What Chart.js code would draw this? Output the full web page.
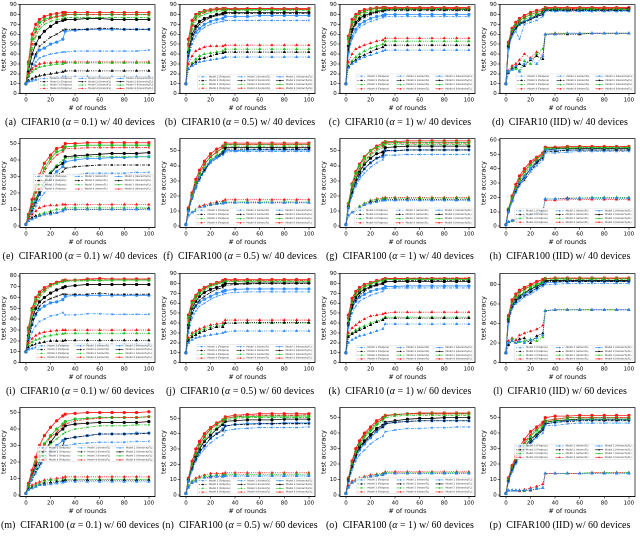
<!DOCTYPE html>
<html>
<head>
<meta charset="utf-8">
<script src="https://cdn.jsdelivr.net/npm/chart.js@4.4.1/dist/chart.umd.min.js"></script>
<style>
  body { margin: 0; background: #fff; }
  #grid { display: grid; grid-template-columns: repeat(4, 160px); grid-auto-rows: 134.25px; width: 640px; }
  .cell canvas { display: block; }
  .cap { font-family: "Liberation Serif", "DejaVu Serif", serif; font-size: 10px; text-align: center; white-space: nowrap; margin-top: 4px; color: #000; }
</style>
</head>
<body>
<div id="grid"></div>
<script>
const rounds = [0, 2, 5, 8, 11, 15, 20, 25, 30, 32, 40, 50, 60, 70, 80, 90, 100]
const xTicks = [0, 20, 40, 60, 80, 100]

const models = ['Model 1', 'Model 2', 'Model 3', 'Model 4']
const methods = ['Fedprox', 'HeteroFL', 'HierarchyFL']
const modelColors = ['#2b8cff', '#000000', '#1fc01f', '#ff1414']
const methodDash = [[1, 1.2], [3, 1.2, 1, 1.2], []]
const methodMarker = ['triangle', 'crossRot', 'circle']

// each panel: 12 rows = Model 1..4 Fedprox, Model 1..4 HeteroFL, Model 1..4 HierarchyFL
const accA = [
  [10,12,13,14,15,15,16,16,17,17,17,17,17,17,17,17,17],
  [10,13,15,17,18,19,20,21,22,23,23,23,23,23,23,23,23],
  [10,18,22,25,27,28,29,30,30,31,31,31,31,31,31,31,31],
  [10,20,25,28,30,31,31,32,32,32,32,32,32,32,32,32,32],
  [10,14,25,32,36,38,40,41,42,42,43,43,43,43,43,43,44],
  [10,17,30,40,48,52,57,60,64,65,65,65,66,66,65,65,65],
  [10,25,45,58,65,70,73,75,76,77,77,77,77,77,77,77,77],
  [10,27,50,62,68,73,76,78,79,80,80,80,80,80,80,80,80],
  [10,18,30,38,44,46,50,52,55,63,64,65,65,65,65,65,65],
  [10,22,40,50,57,63,68,72,74,75,75,76,76,75,75,75,75],
  [10,30,55,65,72,75,77,78,79,80,80,80,80,80,80,80,80],
  [10,32,60,70,75,78,80,81,82,82,82,82,82,82,82,82,82],
]
const accB = [
  [10,25,28,30,32,33,34,35,36,37,37,37,37,37,37,37,37],
  [10,25,29,32,35,36,38,40,41,42,42,42,42,42,42,42,42],
  [10,25,31,35,38,40,41,42,43,45,45,45,45,45,45,45,45],
  [10,30,38,43,45,47,48,48,48,49,49,49,49,49,49,49,49],
  [10,35,50,58,63,67,70,72,73,74,74,74,74,74,74,74,74],
  [10,38,55,65,70,74,77,79,80,81,81,81,81,81,81,81,81],
  [10,45,65,74,78,80,82,83,84,84,84,84,84,84,84,84,84],
  [10,48,68,76,80,82,84,85,85,85,85,86,86,86,85,85,85],
  [10,40,55,62,66,70,73,75,76,78,78,78,79,79,79,79,79],
  [10,42,60,68,73,76,78,80,81,82,82,82,82,82,82,82,82],
  [10,50,70,78,81,83,84,85,85,85,85,85,85,85,85,85,85],
  [10,55,74,80,82,84,85,86,86,86,86,86,86,86,86,86,86],
]
const accC = [
  [10,26,30,32,35,37,39,41,43,44,44,44,44,44,44,44,44],
  [10,27,31,34,37,39,42,45,47,49,49,49,49,49,49,49,49],
  [10,28,33,37,40,43,46,48,50,53,53,53,53,53,53,53,53],
  [10,32,40,45,47,49,51,53,54,56,56,56,56,56,56,56,56],
  [10,40,55,62,67,70,73,75,77,78,78,78,78,78,78,78,78],
  [10,45,62,70,74,77,80,82,83,84,84,84,84,84,84,84,84],
  [10,50,68,75,78,81,83,84,85,85,85,85,85,85,85,85,85],
  [10,52,70,77,81,83,85,86,86,86,86,86,86,86,86,86,86],
  [10,42,58,65,70,73,76,78,79,80,80,80,80,80,80,80,80],
  [10,48,65,72,76,79,81,83,84,85,85,85,85,85,85,85,85],
  [10,55,72,78,81,83,85,86,86,86,86,86,86,86,86,86,86],
  [10,58,75,80,83,85,86,87,87,87,87,87,87,87,87,87,87],
]
const accD = [
  [10,22,24,28,22,30,35,30,38,60,60,61,61,61,61,61,61],
  [10,21,25,27,30,28,34,38,35,60,60,60,60,61,61,61,61],
  [10,22,26,25,23,33,30,40,45,60,61,61,61,61,61,61,61],
  [10,23,28,30,34,40,36,42,38,60,61,61,61,61,61,61,61],
  [10,45,58,63,55,70,72,74,78,83,83,83,83,83,83,83,83],
  [10,47,60,66,70,72,75,78,80,84,84,84,84,84,84,84,84],
  [10,48,62,68,72,75,78,80,82,85,85,85,85,85,85,85,85],
  [10,50,63,70,74,77,80,82,84,86,86,86,86,86,86,86,86],
  [10,46,60,66,70,73,76,78,80,84,84,84,84,84,84,84,84],
  [10,48,62,67,71,73,76,79,82,85,85,85,85,85,85,85,86],
  [10,50,64,70,74,77,80,82,84,86,86,86,86,86,86,86,86],
  [10,52,66,72,76,79,82,84,85,87,87,87,87,87,87,87,87],
]
const accE = [
  [1,3,4,5,6,7,7,8,9,10,10,10,10,10,10,10,10],
  [1,3,5,6,6,7,8,8,9,10,10,10,10,10,10,10,10.5],
  [1,3,5,6,7,8,9,10,10,11,11,11,11,11,11,11,11],
  [1,4,7,9,11,12,12.5,12.5,13,13,13,13,13,13,13,13,13],
  [1,4,8,12,16,20,24,27,29,30,31,32,32,32,32,32.5,32.5],
  [1,4,9,14,19,24,28,31,33,35,36,36.5,37,37,37,37,37],
  [1,5,11,17,22,28,33,37,40,41,41.5,42,42,42,42,42,42],
  [1,6,13,20,26,33,39,43,45,47,47,47.5,47.5,47.5,47.5,47.5,47.5],
  [1,5,10,15,19,24,29,33,36,39,40,41,41,41.5,41.5,42,42],
  [1,5,11,16,21,27,32,36,38,42,42.5,43,43.5,44,44,44,44.5],
  [1,6,14,21,28,35,41,45,46,48,48.5,49,49,49,49,49,49],
  [1,7,16,24,31,38,43,47,48,50,50,50.5,50.5,50.5,50.5,50.5,50.5],
]
const accF = [
  [1,7,9,10,12,13,14,14.5,15,15.5,15.5,15.5,15.5,15.5,15.5,15.5,15.5],
  [1,7,9,10,12,13,14,15,15,15.5,15.5,15.5,15.5,15.5,15.5,15.5,15.5],
  [1,7,9,11,12,13,14,15,15.5,16,16,16,16,16,16,16,16],
  [1,7,9,11,13,14,15,16,16.5,17.5,17.5,17.5,17.5,17.5,17.5,17.5,17.5],
  [1,10,18,25,30,36,42,45,47,49,49.5,49.5,49.5,49.5,49.5,49.5,49.5],
  [1,10,18,25,31,37,42,45,48,51,51,51,51,51,51,51,51],
  [1,11,20,28,33,39,44,47,50,53,53,53,53,53,53,53,53],
  [1,12,21,29,35,41,46,49,52,54,54,54,54,54,54,54,54],
  [1,10,19,26,32,38,43,46,48,50,50,50.5,50.5,50.5,50.5,50.5,50.5],
  [1,11,20,27,32,37,43,46,49,52,52,52,52,52,52,52,52],
  [1,11,21,29,35,41,46,49,52,54,54,54,54,54,54,54,54],
  [1,12,22,31,37,43,48,51,53,55,55,55,55,55,55,55,55],
]
const accG = [
  [1,7,9,10,12,14,15,16,17,17,17,17,17,17,17,17,17],
  [1,7,9,10,12,14,16,16.5,17,17.5,17.5,17.5,17.5,17.5,17.5,17.5,17.5],
  [1,7,9,11,13,15,17,17.5,18,18.5,18.5,18.5,18.5,18.5,18.5,18.5,18.5],
  [1,7,9,11,13,15,17,18,18.5,19,19,19,19,19,19,19,19],
  [1,12,20,26,31,35,39,42,44,47,47,47.5,47.5,47.5,47.5,47.5,47.5],
  [1,12,22,29,34,38,42,45,47,50,50,50.5,50.5,50.5,50.5,50.5,50.5],
  [1,13,24,32,37,42,47,50,52,54,54,54,54,54,54,54,54],
  [1,14,25,33,38,43,48,51,53,55,55,55,55,55,55,55,55],
  [1,12,22,28,33,38,42,45,46,50,50,50.5,50.5,50.5,50.5,50.5,50.5],
  [1,13,24,31,36,41,45,48,49,52,52.5,53,53,53,53,53,53],
  [1,15,27,35,40,45,50,52,54,55.5,55.5,55.5,55.5,55.5,55.5,55.5,55.5],
  [1,15,28,36,41,46,50,53,55,56,56,56.5,56.5,56.5,56.5,56.5,56.5],
]
const accH = [
  [1,3,4,4,5,7,8,9,10,19,19,19,19.5,19.5,19.5,19.5,19.5],
  [1,3,4,4,5,7,8,9,10,19,19,19.5,19.5,19.5,19.5,19.5,19.5],
  [1,3,3.5,4,5,6,8,9,10,19,19,19.5,19.5,20,20,20,20],
  [1,3,4,5,5,7,8,9,10,18,18,18.5,18.5,18.5,18.5,18.5,18.5],
  [1,10,17,23,28,33,38,42,46,51,51,51.5,52,52,52,52,52],
  [1,10,17,24,29,32,38,44,47,52,52,53,53,53,53,53,53],
  [1,11,19,26,31,36,42,46,49,54,54,54,54.5,54.5,54.5,54.5,54.5],
  [1,11,20,27,33,38,44,47,50,55,55,55,55.5,55.5,55.5,55.5,55.5],
  [1,10,18,25,30,35,40,44,48,53,53,53,53,53,53,53,53],
  [1,11,18,25,30,34,40,45,48,53,54,54,54,54,54,54,54],
  [1,12,20,27,33,38,43,47,50,54.5,54.5,55,55,55,55,55,55],
  [1,12,21,29,35,40,45,48,51,55,55,55.5,55.5,55.5,55.5,55.5,55.5],
]
const accI = [
  [10,12,13,14,14,15,15,15.5,16,16,16,16.5,16.5,16.5,16.5,16.5,16.5],
  [10,14,16,17,18,19,20,20,20,20.5,20.5,20.5,20.5,20.5,20.5,20.5,20.5],
  [10,16,19,21,22,24,25,26,26.5,27,27,27,27,27,27,27,27],
  [10,18,22,25,27,28,29,29.5,30,30,30,30,30,30,30,30,30],
  [10,18,28,34,38,40,43,44,46,44,44,45,45,44.5,44.5,44.5,44.5],
  [10,20,35,45,52,56,59,61,63,63,63,63,64,63,63,63,63],
  [10,25,42,54,60,65,70,73,74,75,75,75.5,75.5,76,76,76,76],
  [10,28,45,56,62,67,71,74,75,76,76,76.5,77,77,77,77,77],
  [10,22,35,44,49,52,55,56,58,61,62,62,62,62,62,62,62],
  [10,25,40,50,56,60,64,67,69,70,71,72,72,72,72,72,72],
  [10,30,48,58,63,67,71,73,75,75.5,76,76,76,76,76,76,76],
  [10,32,50,60,65,69,72,74,75.5,76,76,77,77.5,77,77,77,77],
]
const accJ = [
  [10,20,23,25,26,27,28,29,30,31,32,32,32,32,32,32,32],
  [10,22,26,28,30,32,34,36,36,40,40,40.5,40.5,40.5,40.5,40.5,40.5],
  [10,23,28,30,32,34,36,37,38,40,40,40,40,40,40,40,40],
  [10,25,30,32,34,36,38,39,40,43,43,43,43,43,43,43,43],
  [10,30,45,52,57,60,64,67,69,70,71,71.5,71.5,71.5,71.5,71.5,71.5],
  [10,35,50,58,63,67,71,74,76,78,79,79.5,80,80,80,80,80],
  [10,40,56,64,69,73,77,79,81,82,82,82,82,82,82,82,82],
  [10,42,58,66,71,75,78,80,82,83,83,83,83,83,83,83,83],
  [10,35,50,57,61,64,67,70,72,73,74,74.5,74.5,74.5,74.5,74.5,74.5],
  [10,38,55,62,67,71,74,76,78,80,80,80.5,80.5,80.5,80.5,80.5,80.5],
  [10,45,60,67,71,75,78,80,81.5,82.5,82.5,82.5,82.5,82.5,82.5,82.5,82.5],
  [10,48,62,68,73,76,79,81,83,84,84,84,84,84,84,84,84],
]
const accK = [
  [10,20,23,25,27,28,30,32,34,39,39,39,39,39,39,39,39],
  [10,26,29,31,33,35,38,41,43,45,45,45,45,45,45,45,45],
  [10,27,30,33,35,37,40,42,44,46,46,46,46,46,46,46,46],
  [10,30,35,38,41,44,47,48,49,50,51,51,51,51,51,51,51],
  [10,35,50,57,62,65,68,70,72,75,75.5,75.5,75.5,75.5,75.5,75.5,75.5],
  [10,38,55,63,68,72,76,78,80,82,82.5,83,83,83,83,83,83],
  [10,42,60,68,72,76,79,81,83,84,84,84.5,84.5,84.5,84.5,84.5,84.5],
  [10,45,62,70,74,77,80,82,84,85,85,85.5,85.5,85.5,85.5,85.5,85.5],
  [10,38,55,62,66,69,72,74,75,77,77,77.5,77.5,77.5,77.5,77.5,77.5],
  [10,40,58,66,71,74,77,79,80,82,82,82,82,82,82,82,82],
  [10,45,62,70,74,77,80,82,83,84,84,84,84,84,84,84,84],
  [10,48,65,72,76,79,81,83,84,85,85,85,85,85,85,85,85],
]
const accL = [
  [10,20,22,20,22,20,23,25,28,53,54,54,54,54,54,54,54],
  [10,18,22,20,24,25,20,27,30,53,54,54,54,54,54,54,54],
  [10,19,24,20,21,22,24,22,26,53,54,54,54,54,54,54,54],
  [10,22,25,23,28,30,32,34,38,53,54,54,54,54,54,54,54],
  [10,40,55,60,63,67,70,74,78,80,80,81,81,81,81,81,81],
  [10,42,56,62,66,68,72,76,79,83,83,83,83,83,83,83,83],
  [10,45,60,66,69,72,76,79,82,85,85,85,85,85,85,85,85],
  [10,47,62,68,72,75,79,82,84,86,86,86,86,86,86,86,86],
  [10,42,57,62,66,70,73,76,80,82,82,83,83,83,83,83,83],
  [10,44,58,64,68,71,75,78,81,84,84,84,84,84,84,84,84],
  [10,46,62,68,72,75,78,80,83,86,86,86,86,86,86,86,86],
  [10,48,64,70,74,77,80,83,85,86,86.5,86.5,86.5,86.5,86.5,86.5,86.5],
]
const accM = [
  [1,3,4,5,6,6,6.5,7,7.5,8,8,8,8,8,8,8,8],
  [1,3.5,4.5,5,6,7,7.5,8,8.5,9,9,9,9,9,9,9,9],
  [1,4,5,6,7,8,9,9,9,9.5,9.5,9.5,9.5,9.5,9.5,9.5,9.5],
  [1,4,6,7,8,9,9.5,10,10.5,11,11,11,11,11,11,11,11],
  [1,4,9,13,17,21,25,27,29,30,31,31.5,32,32,32,32.5,32.5],
  [1,4,9,14,18,22,26,29,30,34,35,36,37,37,37,37,37.5],
  [1,5,11,16,21,26,31,34,37,38,40,41,42,42,42,42.5,42.5],
  [1,6,13,19,25,30,35,38,42,43,45,46,46.5,47,47,47,47.5],
  [1,5,11,16,20,24,27,30,33,34,35,36,37,37,37,37.5,37.5],
  [1,5,12,18,23,27,32,37,40,42,43,43.5,44,44,44,44,44.5],
  [1,6,13,20,26,31,36,40,43,44.5,46,46.5,47,47,47,47,47.5],
  [1,7,15,23,30,36,41,45,48,49,49.5,50,50,50,50,50,50.5],
]
const accN = [
  [1,5,8,9,10,11,11.5,12,12,12.5,12.5,12.5,12.5,12.5,12.5,12.5,12.5],
  [1,5,8,9,10,11,12,12,12,12.5,12.5,12.5,12.5,12.5,12.5,12.5,12.5],
  [1,6,9,10,11,12,12.5,13,13,13.5,13.5,13.5,13.5,13.5,13.5,13.5,13.5],
  [1,6,9,11,12,13,14,14,14,14.5,14.5,14.5,14.5,14.5,14.5,14.5,14.5],
  [1,9,16,22,26,30,34,37,39,42,43,43.5,44,44,44,44,44.5],
  [1,9,17,23,28,32,37,40,42,45,46,46,46.5,46.5,46.5,46.5,46.5],
  [1,10,19,26,31,36,41,44,47,49,50,50.5,50.5,50.5,50.5,50.5,50.5],
  [1,11,20,28,33,38,43,46,48,50,51,52,52,52,52,52,52.5],
  [1,9,17,23,28,32,37,40,43,45,46,46.5,46.5,46.5,47,47,47],
  [1,10,18,25,30,35,39,43,46,48,48.5,49,49,49,49.5,49.5,49.5],
  [1,10,20,27,33,38,43,46,48.5,50,51,51,51.5,51.5,51.5,51.5,51.5],
  [1,11,22,30,35,40,44,47,49,51,52,52.5,53,53,53,53,53],
]
const accO = [
  [1,5,8,9,10,11,12,12.5,13,14,14,14,14,14,14,14,14],
  [1,5,8,9,10,11,12,12.5,13,14,14,14,14,14,14,14,14],
  [1,5,8,9.5,10.5,11.5,12,13,13.5,14.5,14.5,14.5,14.5,14.5,14.5,14.5,14.5],
  [1,6,9,10,11,12,13,13.5,14,15,15,15,15,15,15,15,15],
  [1,8,16,22,26,29,33,36,38,41,42,43,43,43.5,43.5,44,44],
  [1,9,18,25,30,34,38,42,44,46,47,47.5,48,48,48,48,48],
  [1,10,20,27,32,37,41,45,48,50,51,51.5,51.5,51.5,51.5,51.5,51.5],
  [1,11,21,29,34,39,43,47,49,51,52,52.5,52.5,52.5,52.5,52.5,52.5],
  [1,9,18,24,29,33,37,41,44,46,47,47.5,48,48,48,48,48],
  [1,10,19,26,31,35,39,43,45,47,48,49,49.5,49.5,50,50,50],
  [1,11,21,28,33,38,42,46,49,51,52,52.5,52.5,52.5,52.5,52.5,52.5],
  [1,11,22,30,35,40,44,48,50,51.5,52,52.5,53,53,53,53,53],
]
const accP = [
  [1,3,3,3,3,3,3.5,4,4.5,14,14,14,14,14,14,14,14],
  [1,3,3,3,3,3,3,4,4.5,14,14,14,14,14,14,14,14],
  [1,3,3,3,3,2.5,3.5,4,4.5,14,14,14,14,14.5,14.5,14.5,14.5],
  [1,3,3,3,2.5,3.5,4.5,5.5,7,14,14,14,14,14.5,14.5,14.5,14.5],
  [1,8,15,20,24,28,33,37,40,45,45,46,46.5,46.5,46.5,46.5,46.5],
  [1,9,16,21,25,29,34,38,42,46,47,47.5,48,48,48,48,48],
  [1,10,17,22,27,31,36,40,44,47,48,49,49,49,49,49,49],
  [1,10,18,24,29,34,39,43,46,48,49,50,50,50,50,50,50],
  [1,9,16,21,26,30,34,38,42,46,47,48,48.5,48.5,48.5,48.5,48.5],
  [1,9,17,22,26,31,36,39,43,47,48,48.5,49,49,49,49,49],
  [1,10,18,23,28,33,38,42,45,48,49,50,50,50,50,50,50],
  [1,11,19,25,31,36,41,44,47,50,51,51,51.5,51.5,51.5,51.5,51.5],
]

const panelAcc = [accA, accB, accC, accD, accE, accF, accG, accH, accI, accJ, accK, accL, accM, accN, accO, accP]
const panelTags = ['a', 'b', 'c', 'd', 'e', 'f', 'g', 'h', 'i', 'j', 'k', 'l', 'm', 'n', 'o', 'p']
const panelSets = ['CIFAR10', 'CIFAR10', 'CIFAR10', 'CIFAR10', 'CIFAR100', 'CIFAR100', 'CIFAR100', 'CIFAR100',
  'CIFAR10', 'CIFAR10', 'CIFAR10', 'CIFAR10', 'CIFAR100', 'CIFAR100', 'CIFAR100', 'CIFAR100']
const panelAlpha = ['0.1', '0.5', '1', 'IID', '0.1', '0.5', '1', 'IID', '0.1', '0.5', '1', 'IID', '0.1', '0.5', '1', 'IID']
const panelDevices = [40, 40, 40, 40, 40, 40, 40, 40, 60, 60, 60, 60, 60, 60, 60, 60]
const yMin = [0, 0, 0, 0, -1, -1, -1, -1, 0, 0, 0, 0, -1, -1, -1, -1]
const yMax = [90, 90, 90, 90, 53, 58, 58, 61, 82, 90, 90, 91, 53, 57, 56.5, 56.5]
const yStep = [10, 10, 10, 10, 10, 10, 10, 10, 10, 10, 10, 20, 10, 10, 10, 10]

// legend box inside the plot: [left, top, height] as fractions of the plot area
const legendBox = [
  [0.14, 0.81, 0.15], [0.13, 0.79, 0.17], [0.12, 0.78, 0.19], [0.12, 0.78, 0.19],
  [0.10, 0.40, 0.19], [0.12, 0.78, 0.19], [0.11, 0.78, 0.19], [0.11, 0.79, 0.17],
  [0.12, 0.79, 0.17], [0.12, 0.80, 0.17], [0.12, 0.81, 0.17], [0.11, 0.81, 0.17],
  [0.13, 0.43, 0.18], [0.13, 0.80, 0.17], [0.12, 0.79, 0.18], [0.11, 0.41, 0.17],
]

const frame = {
  id: 'frame',
  afterDraw(chart) {
    const { ctx, chartArea: a } = chart
    ctx.save()
    ctx.strokeStyle = '#000'
    ctx.lineWidth = 0.7
    ctx.strokeRect(a.left, a.top, a.width, a.height)
    ctx.restore()
  },
}

const insideLegend = {
  id: 'insideLegend',
  afterDatasetsDraw(chart, args, opts) {
    const { ctx, chartArea: a } = chart
    const [fl, ft, fh] = opts.box
    const x0 = a.left + a.width * fl
    const x1 = a.right - a.width * 0.015
    const y0 = a.top + a.height * ft
    const h = a.height * fh
    ctx.save()
    ctx.fillStyle = 'rgba(255,255,255,0.85)'
    ctx.strokeStyle = '#d0d0d0'
    ctx.lineWidth = 0.4
    ctx.fillRect(x0, y0, x1 - x0, h)
    ctx.strokeRect(x0, y0, x1 - x0, h)
    const colW = (x1 - x0) / 3
    const rowH = h / 4
    ctx.font = '2.4px "DejaVu Sans"'
    ctx.textBaseline = 'middle'
    chart.data.datasets.forEach((ds, i) => {
      const col = Math.floor(i / 4)
      const row = i % 4
      const lx = x0 + col * colW + 1.5
      const ly = y0 + row * rowH + rowH / 2
      ctx.strokeStyle = ds.borderColor
      ctx.lineWidth = 0.6
      ctx.setLineDash(ds.borderDash)
      ctx.beginPath()
      ctx.moveTo(lx, ly)
      ctx.lineTo(lx + 8, ly)
      ctx.stroke()
      ctx.setLineDash([])
      ctx.fillStyle = ds.borderColor
      ctx.beginPath()
      ctx.arc(lx + 4, ly, 0.8, 0, Math.PI * 2)
      ctx.fill()
      ctx.fillStyle = '#222'
      ctx.fillText(ds.label, lx + 10, ly)
    })
    ctx.restore()
  },
}

const grid = document.getElementById('grid')

panelAcc.forEach((acc, p) => {
  const cell = document.createElement('div')
  cell.className = 'cell'
  const canvas = document.createElement('canvas')
  canvas.width = 160
  canvas.height = 112
  canvas.style.width = '160px'
  canvas.style.height = '112px'
  cell.appendChild(canvas)
  const cap = document.createElement('div')
  cap.className = 'cap'
  const setting = panelAlpha[p] === 'IID' ? '(IID)' : '(<i>α</i> = ' + panelAlpha[p] + ')'
  cap.innerHTML = '(' + panelTags[p] + ')&nbsp;&nbsp;' + panelSets[p] + ' ' + setting + ' w/ ' + panelDevices[p] + ' devices'
  cell.appendChild(cap)
  grid.appendChild(cell)

  const datasets = acc.map((row, i) => {
    const m = i % 4
    const k = Math.floor(i / 4)
    return {
      label: models[m] + ' (' + methods[k] + ')',
      data: rounds.map((r, j) => ({ x: r, y: row[j] })),
      borderColor: modelColors[m],
      backgroundColor: modelColors[m],
      borderDash: methodDash[k],
      borderWidth: 0.8,
      pointStyle: methodMarker[k],
      pointRadius: 1.3,
      pointBorderWidth: 0.6,
      tension: 0,
      fill: false,
    }
  })

  const step = yStep[p]
  new Chart(canvas, {
    type: 'line',
    data: { datasets },
    plugins: [frame, insideLegend],
    options: {
      responsive: false,
      animation: false,
      devicePixelRatio: 2,
      layout: { padding: { top: 2, right: 5, left: 0, bottom: 0 } },
      scales: {
        x: {
          type: 'linear',
          min: -5,
          max: 105,
          afterBuildTicks: (s) => { s.ticks = xTicks.map((v) => ({ value: v })) },
          ticks: { font: { size: 5.5, family: 'DejaVu Sans' }, color: '#000', padding: 1, maxRotation: 0, autoSkip: false },
          grid: { drawOnChartArea: false, tickLength: 2, color: '#000', lineWidth: 0.6 },
          border: { color: '#000', width: 0.7 },
          title: { display: true, text: '# of rounds', font: { size: 6.5, family: 'DejaVu Sans' }, color: '#000', padding: { top: 0, bottom: 0 } },
        },
        y: {
          min: yMin[p],
          max: yMax[p],
          afterBuildTicks: (s) => {
            const t = []
            for (let v = 0; v <= s.max; v += step) t.push({ value: v })
            s.ticks = t
          },
          ticks: { font: { size: 5.5, family: 'DejaVu Sans' }, color: '#000', padding: 1, autoSkip: false },
          grid: { drawOnChartArea: false, tickLength: 2, color: '#000', lineWidth: 0.6 },
          border: { color: '#000', width: 0.7 },
          title: { display: true, text: 'test accuracy', font: { size: 6.5, family: 'DejaVu Sans' }, color: '#000', padding: { top: 0, bottom: 1 } },
        },
      },
      plugins: {
        legend: { display: false },
        tooltip: { enabled: false },
        insideLegend: { box: legendBox[p] },
      },
    },
  })
})
</script>
</body>
</html>
